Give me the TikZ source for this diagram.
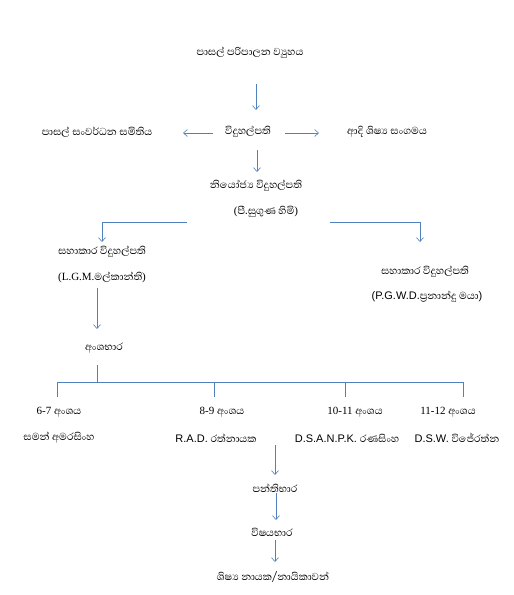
\documentclass[tikz,border=0pt]{standalone}
\usepackage{fontspec}
\setmainfont{Liberation Serif}
\newfontfamily\sinhf[Script=Sinhala,Scale=1.18]{Abhaya Libre}
\newfontfamily\sansf{Liberation Sans}
\usetikzlibrary{arrows.meta}
\definecolor{lnc}{RGB}{79,129,189}
\begin{document}
\begin{tikzpicture}[x=1pt,y=-1pt,
  lbl/.style={inner sep=0pt,font=\fontsize{11}{13}\selectfont},
  arr/.style={draw=lnc,line width=0.6pt,-{Straight Barb[length=4pt,width=7pt]}},
  ln/.style={draw=lnc,line width=0.6pt}]
\useasboundingbox (0,0) rectangle (514,595);
\fill[white] (0,0) rectangle (514,595);
% nodes
\node[lbl] (top)  at (250,53)  {\sinhf පාසල් පරිපාලන ව්‍යුහය};
\node[lbl] (vp)   at (248,132) {\sinhf විදුහල්පති};
\node[lbl] (sdc)  at (97,132)  {\sinhf පාසල් සංවර්ධන සමිතිය};
\node[lbl] (oba)  at (387,132) {\sinhf ආදි ශිෂ්‍ය සංගමය};
\node[lbl] (dep)  at (256,186) {\sinhf නියෝජ්‍ය විදුහල්පති};
\node[lbl] (depn) at (266,212) {(\sinhf පී.සුගුණ හිමි\rmfamily)};
\node[lbl] (ap1)  at (102,252) {\sinhf සහාකාර විදුහල්පති};
\node[lbl] (ap1n) at (102,277) {(L.G.M.{\sinhf මල්කාන්ති})};
\node[lbl] (ap2)  at (425,272) {\sinhf සහාකාර විදුහල්පති};
\node[lbl] (ap2n) at (427,297) {{\sansf (P.G.W.D.}{\sinhf ප්‍රනාන්දු මයා}{\sansf )}};
\node[lbl] (sec)  at (104,348) {\sinhf අංශභාර};
\node[lbl] (g1)   at (59,412)  {6-7 {\sinhf අංශය}};
\node[lbl] (g1n)  at (59,438)  {\sinhf සමන් අමරසිංහ};
\node[lbl] (g2)   at (222,412) {8-9 {\sinhf අංශය}};
\node[lbl] (g2n)  at (216,438) {{\sansf R.A.D.} {\sinhf රත්නායක}};
\node[lbl] (g3)   at (355,412) {10-11 {\sinhf අංශය}};
\node[lbl] (g3n)  at (347,438) {{\sansf D.S.A.N.P.K.} {\sinhf රණසිංහ}};
\node[lbl] (g4)   at (448,412) {11-12 {\sinhf අංශය}};
\node[lbl] (g4n)  at (457,438) {{\sansf D.S.W.} {\sinhf විජේරත්න}};
\node[lbl] (cls)  at (275,488) {\sinhf පන්තිභාර};
\node[lbl] (sub)  at (272,532) {\sinhf විෂයභාර};
\node[lbl] (pre)  at (273,577) {\sinhf ශිෂ්‍ය නායක/නායිකාවන්};
% connectors
\draw[arr] (top.center) ++(6,31) -- ++(0,26);
\draw[arr] (vp.center) ++(-35,1) -- ++(-30,0);
\draw[arr] (vp.center) ++(37,1) -- ++(34,0);
\draw[arr] (vp.center) ++(9,18) -- ++(0,22);
\draw[arr] (depn.center) ++(-79,10) -| ++(-85,20);
\draw[arr] (depn.center) ++(64,10) -| ++(90,20);
\draw[arr] (ap1n.center) ++(-5,11) -- ++(0,41);
\draw[ln] (sec.center) ++(-7,17) -- ++(0,17) coordinate (bj);
\coordinate (b1) at (57,382);
\coordinate (b4) at (463,382);
\draw[ln] (b1) -- (b4);
\draw[ln] (b1) -- ++(0,15);
\draw[ln] (214,382) -- ++(0,15);
\draw[ln] (345,382) -- ++(0,15);
\draw[ln] (b4) -- ++(0,15);
\draw[arr] (cls.center) ++(0,-43) -- ++(0,30);
\draw[arr] (cls.center) ++(1,5) -- ++(0,27);
\draw[arr] (sub.center) ++(3,8) -- ++(0,22);
\end{tikzpicture}
\end{document}
